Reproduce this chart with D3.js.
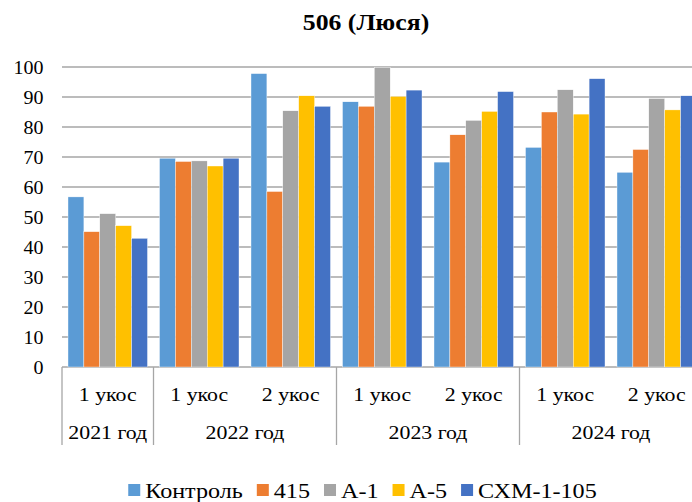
<!DOCTYPE html>
<html><head><meta charset="utf-8">
<script src="https://cdn.jsdelivr.net/npm/d3@7"></script>
<style>
html,body{margin:0;padding:0;background:#fff;overflow:hidden;}
</style></head>
<body><svg id="c" width="692" height="502"></svg>
<script>
const title = "506 (Люся)";
const cuts = ["1 укос","1 укос","2 укос","1 укос","2 укос","1 укос","2 укос"];
const years = ["2021 год","2022 год","2023 год","2024 год"];
const yearSpan = [1,2,2,2];
const seriesNames = ["Контроль","415","А-1","А-5","СХМ-1-105"];
const colors = ["#5B9BD5","#ED7D31","#A5A5A5","#FFC000","#4472C4"];
const kontrol = [56.7,69.6,97.8,88.4,68.3,73.2,64.9];
const s415    = [45.1,68.5,58.5,86.9,77.4,85.0,72.5];
const a1      = [51.1,68.7,85.4,99.8,82.2,92.4,89.5];
const a5      = [47.1,67.0,90.4,90.2,85.2,84.3,85.7];
const sxm     = [42.9,69.6,86.9,92.3,91.8,96.1,90.4];
const series = [kontrol,s415,a1,a5,sxm];
const yTicks = d3.range(0,101,10);

const FONT = '"Liberation Serif"';
const svg = d3.select("#c");
const pL=62, pR=702.5, pT=67, pB=367;
const x0 = d3.scaleBand().domain(d3.range(cuts.length)).range([pL,pR]).padding(0);
const x1 = d3.scaleBand().domain(d3.range(series.length)).range([0,x0.bandwidth()]).paddingInner(0).paddingOuter(0.377);
const y = d3.scaleLinear().domain([0,100]).range([pB,pT]);
const grid="#A6A6A6";

function txt(parent, x, yy, s, size, sx, anchor, weight){
  return parent.append("text")
    .attr("transform",`translate(${x},${yy}) scale(${sx},1)`)
    .attr("text-anchor",anchor||"middle")
    .attr("font-family","Liberation Serif")
    .style("font-family",FONT).style("font-size",size+"px")
    .style("font-weight",weight||"normal").attr("fill","#000").text(s);
}

// gridlines
svg.append("g").selectAll("line").data(yTicks).join("line")
  .attr("x1",pL).attr("x2",692).attr("y1",d=>y(d)).attr("y2",d=>y(d))
  .attr("stroke",grid).attr("stroke-width",1.3);

// y axis labels (d3 axis for positions)
const ya = svg.append("g").attr("transform",`translate(${pL},0)`)
  .call(d3.axisLeft(y).tickValues(yTicks).tickSize(0).tickPadding(18.5));
ya.attr("font-family","Liberation Serif").attr("font-size",18);
ya.select(".domain").remove();
ya.selectAll("text").style("font-family",FONT).style("font-size","18px")
  .attr("fill","#000").attr("transform","scale(1.11,1)")
  .attr("x",-18.5/1.11).attr("dy","0.34em");

// bars
const g = svg.append("g");
series.forEach((vals,si)=>{
  g.append("g").selectAll("rect").data(vals).join("rect")
    .attr("x",(d,i)=>x0(i)+x1(si)).attr("width",x1.bandwidth())
    .attr("y",d=>y(d)).attr("height",d=>y(0)-y(d))
    .attr("fill",colors[si]).attr("stroke","#fff").attr("stroke-width",0.4);
});

// x axis multi-level
const axisBottom = 445;
let bounds=[0]; let acc=0; yearSpan.forEach(s=>{acc+=s;bounds.push(acc);});
svg.append("g").selectAll("line").data(bounds).join("line")
  .attr("x1",d=>x0.step()*d+pL).attr("x2",d=>x0.step()*d+pL)
  .attr("y1",pB).attr("y2",axisBottom).attr("stroke",grid).attr("stroke-width",1.3);
const xl = svg.append("g");
cuts.forEach((c,i)=>txt(xl, x0(i)+x0.bandwidth()/2, 401, c, 19.5, 1.12));
years.forEach((c,i)=>txt(xl, pL+x0.step()*(bounds[i]+bounds[i+1])/2, 439, c, 19.5, 1.12));

// title
txt(svg, 366, 30, title, 23, 1.12, "middle", "bold");

// legend
const lg = svg.append("g");
let lx=0;
const LS=1.15;
seriesNames.forEach((n,i)=>{
  const it = lg.append("g").attr("transform",`translate(${lx},0)`);
  it.append("rect").attr("x",0).attr("y",-7).attr("width",12).attr("height",12).attr("fill",colors[i]);
  const t = txt(it, 17, 7, n, 21, LS, "start");
  lx += 17 + t.node().getComputedTextLength()*LS + 14;
});
const lw = lx-14;
lg.attr("transform",`translate(${362.5-lw/2},491)`);
</script></body></html>
